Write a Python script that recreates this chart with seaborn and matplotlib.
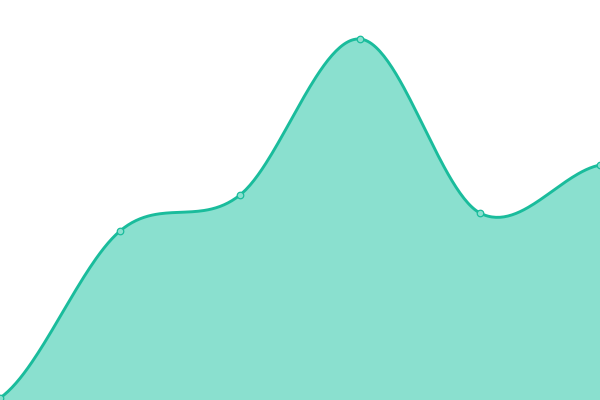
import numpy as np
import pandas as pd
import matplotlib
matplotlib.use("Agg")
import matplotlib.pyplot as plt
import seaborn as sns

# data
x_points = [0, 1, 2, 3, 4, 5]
values = [1, 84.5, 102.5, 180.5, 93.5, 117.5]

line_color = "#1abc9c"
fill_color = "#8ae0cf"


def catmull_rom(xs, ys, n=60):
    xs = np.asarray(xs, float)
    ys = np.asarray(ys, float)
    px = np.concatenate([[2 * xs[0] - xs[1]], xs, [2 * xs[-1] - xs[-2]]])
    py = np.concatenate([[ys[0]], ys, [ys[-1]]])
    out_x, out_y = [], []
    for i in range(1, len(px) - 2):
        t = np.linspace(0, 1, n, endpoint=False)
        for arr, out in ((px, out_x), (py, out_y)):
            p0, p1, p2, p3 = arr[i - 1], arr[i], arr[i + 1], arr[i + 2]
            m1 = (p2 - p0) / 2
            m2 = (p3 - p1) / 2
            h00 = 2 * t**3 - 3 * t**2 + 1
            h10 = t**3 - 2 * t**2 + t
            h01 = -2 * t**3 + 3 * t**2
            h11 = t**3 - t**2
            out.extend(h00 * p1 + h10 * m1 + h01 * p2 + h11 * m2)
    out_x.append(xs[-1])
    out_y.append(ys[-1])
    return np.array(out_x), np.array(out_y)


cx, cy = catmull_rom(x_points, values)
curve = pd.DataFrame({"x": cx, "y": cy})
pts = pd.DataFrame({"x": x_points, "y": values})

sns.set_style("white")
fig = plt.figure(figsize=(6, 4), dpi=100)
ax = fig.add_axes([0, 0, 1, 1])

ax.fill_between(curve["x"], curve["y"], 0, color=fill_color, linewidth=0)
sns.lineplot(data=curve, x="x", y="y", ax=ax, color=line_color, linewidth=2.1, sort=False)
sns.scatterplot(data=pts, x="x", y="y", ax=ax, s=22, color=fill_color,
                edgecolor=line_color, linewidth=0.9, zorder=5, clip_on=False)

ax.set_xlim(0, 5)
ax.set_ylim(0, 200)
ax.axis("off")

fig.savefig("out.png", dpi=100)
